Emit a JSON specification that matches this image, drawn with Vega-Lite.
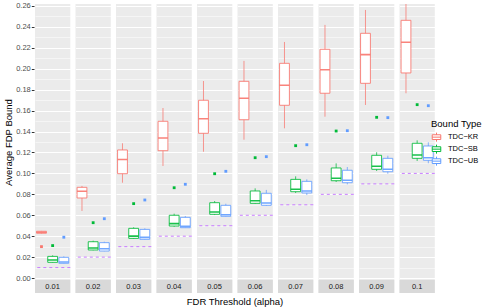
{
  "$schema": "https://vega.github.io/schema/vega-lite/v6.json",
  "padding": {"left": 3, "top": 1, "right": 0, "bottom": 0},
  "background": "white",
  "data": {"values": [
    {"alpha": 0.01, "type": "TDC−KR", "lo": 0.0425, "q1": 0.0428, "med": 0.0437, "q3": 0.0447, "hi": 0.0450, "out": 0.030},
    {"alpha": 0.01, "type": "TDC−SB", "lo": 0.0148, "q1": 0.0150, "med": 0.0172, "q3": 0.0207, "hi": 0.0217, "out": 0.031},
    {"alpha": 0.01, "type": "TDC−UB", "lo": 0.0140, "q1": 0.0141, "med": 0.0153, "q3": 0.0198, "hi": 0.0207, "out": 0.039},
    {"alpha": 0.02, "type": "TDC−KR", "lo": 0.0641, "q1": 0.0765, "med": 0.0829, "q3": 0.0867, "hi": 0.0880, "out": null},
    {"alpha": 0.02, "type": "TDC−SB", "lo": 0.0265, "q1": 0.0268, "med": 0.0287, "q3": 0.0347, "hi": 0.0357, "out": 0.0529},
    {"alpha": 0.02, "type": "TDC−UB", "lo": 0.0256, "q1": 0.0258, "med": 0.0280, "q3": 0.0338, "hi": 0.0347, "out": 0.0567},
    {"alpha": 0.03, "type": "TDC−KR", "lo": 0.0911, "q1": 0.0997, "med": 0.1133, "q3": 0.1224, "hi": 0.1288, "out": null},
    {"alpha": 0.03, "type": "TDC−SB", "lo": 0.0375, "q1": 0.0379, "med": 0.0401, "q3": 0.0475, "hi": 0.0485, "out": 0.0711},
    {"alpha": 0.03, "type": "TDC−UB", "lo": 0.0367, "q1": 0.0370, "med": 0.0389, "q3": 0.0465, "hi": 0.0475, "out": 0.0746},
    {"alpha": 0.04, "type": "TDC−KR", "lo": 0.1071, "q1": 0.1217, "med": 0.1338, "q3": 0.1498, "hi": 0.1625, "out": null},
    {"alpha": 0.04, "type": "TDC−SB", "lo": 0.0490, "q1": 0.0497, "med": 0.0520, "q3": 0.0600, "hi": 0.0615, "out": 0.0863},
    {"alpha": 0.04, "type": "TDC−UB", "lo": 0.0478, "q1": 0.0481, "med": 0.0494, "q3": 0.0580, "hi": 0.0593, "out": 0.0896},
    {"alpha": 0.05, "type": "TDC−KR", "lo": 0.1207, "q1": 0.1383, "med": 0.1523, "q3": 0.1699, "hi": 0.1883, "out": null},
    {"alpha": 0.05, "type": "TDC−SB", "lo": 0.0602, "q1": 0.0609, "med": 0.0631, "q3": 0.0720, "hi": 0.0736, "out": 0.0997},
    {"alpha": 0.05, "type": "TDC−UB", "lo": 0.0588, "q1": 0.0590, "med": 0.0605, "q3": 0.0695, "hi": 0.0710, "out": 0.1020},
    {"alpha": 0.06, "type": "TDC−KR", "lo": 0.1322, "q1": 0.1513, "med": 0.1718, "q3": 0.1880, "hi": 0.2075, "out": null},
    {"alpha": 0.06, "type": "TDC−SB", "lo": 0.0710, "q1": 0.0714, "med": 0.0739, "q3": 0.0832, "hi": 0.0857, "out": 0.1150},
    {"alpha": 0.06, "type": "TDC−UB", "lo": 0.0690, "q1": 0.0695, "med": 0.0717, "q3": 0.0810, "hi": 0.0842, "out": 0.1160},
    {"alpha": 0.07, "type": "TDC−KR", "lo": 0.1431, "q1": 0.1651, "med": 0.1842, "q3": 0.2052, "hi": 0.2256, "out": null},
    {"alpha": 0.07, "type": "TDC−SB", "lo": 0.0813, "q1": 0.0825, "med": 0.0848, "q3": 0.0943, "hi": 0.0972, "out": 0.1265},
    {"alpha": 0.07, "type": "TDC−UB", "lo": 0.0793, "q1": 0.0813, "med": 0.0832, "q3": 0.0924, "hi": 0.0943, "out": 0.1274},
    {"alpha": 0.08, "type": "TDC−KR", "lo": 0.1542, "q1": 0.1766, "med": 0.1991, "q3": 0.2186, "hi": 0.2419, "out": null},
    {"alpha": 0.08, "type": "TDC−SB", "lo": 0.0918, "q1": 0.0930, "med": 0.0953, "q3": 0.1052, "hi": 0.1096, "out": 0.1405},
    {"alpha": 0.08, "type": "TDC−UB", "lo": 0.0895, "q1": 0.0911, "med": 0.0934, "q3": 0.1030, "hi": 0.1061, "out": 0.1408},
    {"alpha": 0.09, "type": "TDC−KR", "lo": 0.1654, "q1": 0.1861, "med": 0.2135, "q3": 0.2339, "hi": 0.2562, "out": null},
    {"alpha": 0.09, "type": "TDC−SB", "lo": 0.1023, "q1": 0.1039, "med": 0.1068, "q3": 0.1173, "hi": 0.1202, "out": 0.1536},
    {"alpha": 0.09, "type": "TDC−UB", "lo": 0.0997, "q1": 0.1016, "med": 0.1039, "q3": 0.1144, "hi": 0.1169, "out": 0.1533},
    {"alpha": 0.1, "type": "TDC−KR", "lo": 0.1766, "q1": 0.1960, "med": 0.2253, "q3": 0.2463, "hi": 0.2700, "out": null},
    {"alpha": 0.1, "type": "TDC−SB", "lo": 0.1119, "q1": 0.1144, "med": 0.1176, "q3": 0.1288, "hi": 0.1316, "out": 0.1657},
    {"alpha": 0.1, "type": "TDC−UB", "lo": 0.1097, "q1": 0.1125, "med": 0.1150, "q3": 0.1262, "hi": 0.1297, "out": 0.1647}
  ]},
  "facet": {
    "column": {
      "field": "alpha", "type": "ordinal",
      "header": {
        "labels": false,
        "labelPadding": 0,
        "title": "FDR Threshold (alpha)",
        "titleOrient": "bottom",
        "titleFont": "Liberation Sans",
        "titleFontSize": 9.5,
        "titleFontWeight": "normal",
        "titleColor": "#000000",
        "titlePadding": -6
      }
    }
  },
  "spacing": {"column": 3.5},
  "spec": {
    "width": 35.3,
    "height": 289,
    "view": {"fill": "#EBEBEB", "stroke": null},
    "encoding": {
      "x": {"field": "type", "type": "nominal", "axis": null,
            "scale": {"domain": ["TDC−KR", "TDC−SB", "TDC−UB"], "paddingInner": 0, "paddingOuter": 0.08}}
    },
    "layer": [
      {
        "transform": [{"filter": "datum.type == 'TDC−KR'"}],
        "mark": {"type": "rule", "color": "#C77CFF", "strokeDash": [3, 3], "strokeWidth": 1},
        "encoding": {"x": null,
          "y": {"field": "alpha", "type": "quantitative", "title": "Average FDP Bound",
                "scale": {"domain": [-0.0143, 0.2619], "nice": false, "zero": false},
                "axis": {"values": [0, 0.01, 0.02, 0.03, 0.04, 0.05, 0.06, 0.07, 0.08, 0.09, 0.1, 0.11, 0.12, 0.13, 0.14, 0.15, 0.16, 0.17, 0.18, 0.19, 0.2, 0.21, 0.22, 0.23, 0.24, 0.25, 0.26],
                  "labelExpr": "round(datum.value*100) % 2 == 0 ? format(datum.value, '.2f') : ''",
                  "tickOpacity": {"condition": {"test": "round(datum.value*100) % 2 == 1", "value": 0}, "value": 1},
                  "gridWidth": {"condition": {"test": "round(datum.value*100) % 2 == 1", "value": 0.5}, "value": 1}}}}
      },
      {
        "mark": {"type": "rule", "strokeWidth": 1, "strokeOpacity": 0.75, "clip": true},
        "encoding": {
          "y": {"field": "lo", "type": "quantitative", "title": "Average FDP Bound",
                "axis": {"values": [0, 0.01, 0.02, 0.03, 0.04, 0.05, 0.06, 0.07, 0.08, 0.09, 0.1, 0.11, 0.12, 0.13, 0.14, 0.15, 0.16, 0.17, 0.18, 0.19, 0.2, 0.21, 0.22, 0.23, 0.24, 0.25, 0.26],
                  "labelExpr": "round(datum.value*100) % 2 == 0 ? format(datum.value, '.2f') : ''",
                  "tickOpacity": {"condition": {"test": "round(datum.value*100) % 2 == 1", "value": 0}, "value": 1},
                  "gridWidth": {"condition": {"test": "round(datum.value*100) % 2 == 1", "value": 0.5}, "value": 1}}},
          "y2": {"field": "hi"},
          "stroke": {"field": "type", "type": "nominal", "title": "Bound Type",
                     "scale": {"domain": ["TDC−KR", "TDC−SB", "TDC−UB"], "range": ["#F8766D", "#00BA38", "#619CFF"]},
                     "legend": {
                       "orient": "none", "legendX": 396, "legendY": 115,
                       "symbolType": "M-0.9,-0.5H0.9V0.5H-0.9Z M-0.9,0H0.9 M0,-0.5V-0.95 M0,0.5V0.95",
                       "symbolSize": 90, "symbolStrokeWidth": 1, "symbolFillColor": "white",
                       "rowPadding": 0, "clipHeight": 11.3, "labelOffset": 6,
                       "encode": {"symbols": {"update": {"fill": {"value": "white"}, "fillOpacity": {"value": 1}}}}
                     }}
        }
      },
      {
        "mark": {"type": "bar", "fill": "white", "strokeWidth": 1, "strokeOpacity": 0.85, "width": {"band": 0.88}},
        "encoding": {
          "y": {"field": "q1", "type": "quantitative", "title": "Average FDP Bound",
                "axis": {"values": [0, 0.01, 0.02, 0.03, 0.04, 0.05, 0.06, 0.07, 0.08, 0.09, 0.1, 0.11, 0.12, 0.13, 0.14, 0.15, 0.16, 0.17, 0.18, 0.19, 0.2, 0.21, 0.22, 0.23, 0.24, 0.25, 0.26],
                  "labelExpr": "round(datum.value*100) % 2 == 0 ? format(datum.value, '.2f') : ''",
                  "tickOpacity": {"condition": {"test": "round(datum.value*100) % 2 == 1", "value": 0}, "value": 1},
                  "gridWidth": {"condition": {"test": "round(datum.value*100) % 2 == 1", "value": 0.5}, "value": 1}}},
          "y2": {"field": "q3"},
          "stroke": {"field": "type", "type": "nominal", "title": "Bound Type"}
        }
      },
      {
        "mark": {"type": "bar", "fill": "white", "strokeWidth": 1.6, "strokeOpacity": 0.9, "width": {"band": 0.88}},
        "encoding": {
          "y": {"field": "med", "type": "quantitative", "title": "Average FDP Bound",
                "axis": {"values": [0, 0.01, 0.02, 0.03, 0.04, 0.05, 0.06, 0.07, 0.08, 0.09, 0.1, 0.11, 0.12, 0.13, 0.14, 0.15, 0.16, 0.17, 0.18, 0.19, 0.2, 0.21, 0.22, 0.23, 0.24, 0.25, 0.26],
                  "labelExpr": "round(datum.value*100) % 2 == 0 ? format(datum.value, '.2f') : ''",
                  "tickOpacity": {"condition": {"test": "round(datum.value*100) % 2 == 1", "value": 0}, "value": 1},
                  "gridWidth": {"condition": {"test": "round(datum.value*100) % 2 == 1", "value": 0.5}, "value": 1}}},
          "y2": {"field": "med"},
          "stroke": {"field": "type", "type": "nominal", "title": "Bound Type"}
        }
      },
      {
        "transform": [{"filter": "datum.out != null"}],
        "mark": {"type": "square", "size": 1.5, "filled": false, "strokeWidth": 1.6, "opacity": 1},
        "encoding": {
          "y": {"field": "out", "type": "quantitative", "title": "Average FDP Bound",
                "axis": {"values": [0, 0.01, 0.02, 0.03, 0.04, 0.05, 0.06, 0.07, 0.08, 0.09, 0.1, 0.11, 0.12, 0.13, 0.14, 0.15, 0.16, 0.17, 0.18, 0.19, 0.2, 0.21, 0.22, 0.23, 0.24, 0.25, 0.26],
                  "labelExpr": "round(datum.value*100) % 2 == 0 ? format(datum.value, '.2f') : ''",
                  "tickOpacity": {"condition": {"test": "round(datum.value*100) % 2 == 1", "value": 0}, "value": 1},
                  "gridWidth": {"condition": {"test": "round(datum.value*100) % 2 == 1", "value": 0.5}, "value": 1}}},
          "stroke": {"field": "type", "type": "nominal", "title": "Bound Type"}
        }
      },
      {
        "transform": [{"filter": "datum.type == 'TDC−KR'"}],
        "mark": {"type": "rect", "color": "#D9D9D9"},
        "encoding": {"x": null, "y": {"datum": -0.0143, "type": "quantitative", "title": "Average FDP Bound",
                "axis": {"values": [0, 0.01, 0.02, 0.03, 0.04, 0.05, 0.06, 0.07, 0.08, 0.09, 0.1, 0.11, 0.12, 0.13, 0.14, 0.15, 0.16, 0.17, 0.18, 0.19, 0.2, 0.21, 0.22, 0.23, 0.24, 0.25, 0.26],
                  "labelExpr": "round(datum.value*100) % 2 == 0 ? format(datum.value, '.2f') : ''",
                  "tickOpacity": {"condition": {"test": "round(datum.value*100) % 2 == 1", "value": 0}, "value": 1},
                  "gridWidth": {"condition": {"test": "round(datum.value*100) % 2 == 1", "value": 0.5}, "value": 1}}}, "y2": {"datum": -0.0019}}
      },
      {
        "transform": [{"filter": "datum.type == 'TDC−KR'"}],
        "mark": {"type": "text", "font": "Liberation Sans", "fontSize": 7.5, "color": "#1A1A1A", "baseline": "middle"},
        "encoding": {"x": null, "y": {"datum": -0.0081, "type": "quantitative", "title": "Average FDP Bound",
                "axis": {"values": [0, 0.01, 0.02, 0.03, 0.04, 0.05, 0.06, 0.07, 0.08, 0.09, 0.1, 0.11, 0.12, 0.13, 0.14, 0.15, 0.16, 0.17, 0.18, 0.19, 0.2, 0.21, 0.22, 0.23, 0.24, 0.25, 0.26],
                  "labelExpr": "round(datum.value*100) % 2 == 0 ? format(datum.value, '.2f') : ''",
                  "tickOpacity": {"condition": {"test": "round(datum.value*100) % 2 == 1", "value": 0}, "value": 1},
                  "gridWidth": {"condition": {"test": "round(datum.value*100) % 2 == 1", "value": 0.5}, "value": 1}}}, "text": {"field": "alpha", "type": "nominal"}}
      }
    ]
  },
  "resolve": {"scale": {"y": "shared"}},
  "config": {
    "axisY": {
      "labelOverlap": false,
      "labelBound": false,
      "labelFlush": false,
      "labelFont": "Liberation Sans",
      "labelFontSize": 7.5,
      "labelColor": "#4D4D4D",
      "labelPadding": 1,
      "domain": false,
      "ticks": true,
      "tickSize": 2.7,
      "tickColor": "#333333",
      "grid": true,
      "gridColor": "#FFFFFF",
      "titleFont": "Liberation Sans",
      "titleFontSize": 9.5,
      "titleFontWeight": "normal",
      "titleColor": "#000000",
      "titlePadding": 2,
      "titleY": 138
    },
    "legend": {
      "titleFont": "Liberation Sans", "titleFontSize": 9.5, "titleFontWeight": "normal", "titleColor": "#000000",
      "titlePadding": 3,
      "labelFont": "Liberation Sans", "labelFontSize": 7.5, "labelColor": "#000000"
    }
  }
}
